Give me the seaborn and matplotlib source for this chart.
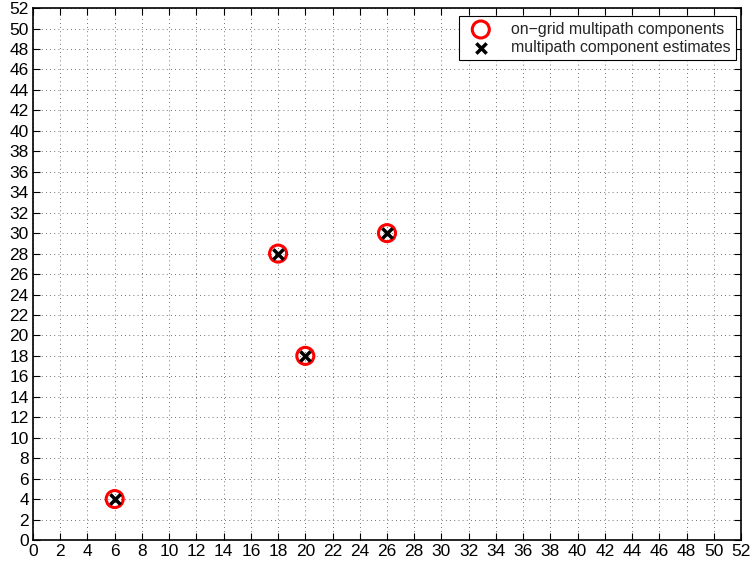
import matplotlib
matplotlib.use("Agg")
import matplotlib.pyplot as plt
import seaborn as sns
import pandas as pd

true_x = [6, 18, 20, 26]
true_y = [4, 28, 18, 30]
est_x = [6, 18, 20, 26]
est_y = [4, 28, 18, 30]
ticks = list(range(0, 53, 2))

sns.set_style("ticks")
plt.rcParams['font.family'] = ['Liberation Sans', 'DejaVu Sans']

fig = plt.figure(figsize=(7.5, 5.64), dpi=100)
ax = fig.add_axes([0.044, 0.0426, 0.944, 0.943])

df_true = pd.DataFrame({"x": true_x, "y": true_y})
df_est = pd.DataFrame({"x": est_x, "y": est_y})

sns.scatterplot(data=df_true, x="x", y="y", ax=ax, marker="o", s=150,
                facecolor="none", edgecolor="red", linewidth=2.2,
                label="on\u2212grid multipath components", zorder=3)
sns.scatterplot(data=df_est, x="x", y="y", ax=ax, marker="x", s=55,
                color="black", linewidth=2.5,
                label="multipath component estimates", zorder=4)

ax.set_xlim(0, 52)
ax.set_ylim(0, 52)
ax.set_xticks(ticks)
ax.set_yticks(ticks)
ax.set_xlabel("")
ax.set_ylabel("")
ax.grid(True, linestyle=(0, (1, 4)), color="#444444", linewidth=0.6)
ax.tick_params(direction="in", length=5, width=0.8, labelsize=12.5,
               top=True, right=True, colors="black", pad=3)
for sp in ax.spines.values():
    sp.set_visible(True)
    sp.set_linewidth(1.2)
    sp.set_color("black")

leg = ax.legend(loc="upper right", fontsize=11.4, frameon=True, fancybox=False,
                borderaxespad=0.0, handletextpad=0.9, borderpad=0.35,
                labelspacing=0.2, handlelength=2.0, bbox_to_anchor=(0.993, 0.985))
leg.get_frame().set_edgecolor("black")
leg.get_frame().set_linewidth(0.8)
leg.get_frame().set_alpha(1)

fig.savefig("out.png", dpi=100)
